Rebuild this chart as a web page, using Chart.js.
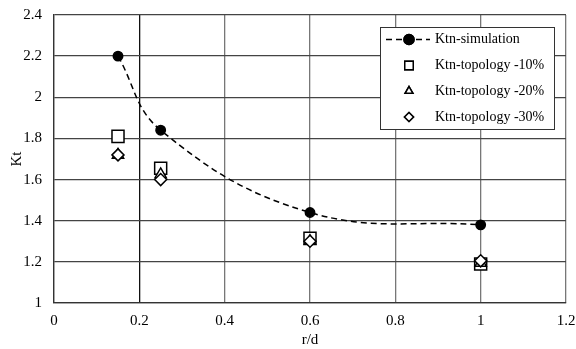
<!DOCTYPE html>
<html>
<head>
<meta charset="utf-8">
<script src="https://cdn.jsdelivr.net/npm/chart.js@4/dist/chart.umd.min.js"></script>
<style>
	html, body { margin: 0; padding: 0; background: #fff; }
	#grafico { display: block; }
</style>
</head>
<body>
<canvas id="grafico" width="576" height="349"></canvas>
<script>
var rd = [0.15, 0.25, 0.6, 1.0];
var ktnSimulation = [2.2, 1.84, 1.44, 1.38];
var ktnTopology10 = [1.81, 1.655, 1.315, 1.19];
var ktnTopology20 = [1.72, 1.625, 1.30, 1.195];
var ktnTopology30 = [1.72, 1.60, 1.30, 1.205];
var xTicks = [0, 0.2, 0.4, 0.6, 0.8, 1, 1.2];
var yTicks = [1, 1.2, 1.4, 1.6, 1.8, 2, 2.2, 2.4];
var nomes = ['Ktn-simulation', 'Ktn-topology -10%', 'Ktn-topology -20%', 'Ktn-topology -30%'];

var fonte = 'Liberation Serif, Times New Roman, serif';

function pontos(valores) {
	return rd.map(function(x, i) { return {x: x, y: valores[i]}; });
}

// legenda com borda dentro da area do grafico
var legendaBox = {
	id: 'legendaBox',
	afterDraw: function(chart) {
		var ctx = chart.ctx;
		var x0 = 380, y0 = 27, w = 174, h = 102;
		ctx.save();
		ctx.fillStyle = '#fff';
		ctx.fillRect(x0, y0, w, h);
		ctx.strokeStyle = '#333';
		ctx.lineWidth = 1;
		ctx.strokeRect(x0 + 0.5, y0 + 0.5, w, h);

		var linhas = [39.5, 65.5, 91, 117];
		ctx.font = '14px ' + fonte;
		ctx.textBaseline = 'middle';
		ctx.fillStyle = '#000';
		chart.data.datasets.forEach(function(ds, i) {
			var y = linhas[i];
			var cx = 409;
			if (ds.showLine) {
				ctx.setLineDash([6, 4]);
				ctx.lineWidth = 1.5;
				ctx.strokeStyle = '#000';
				ctx.beginPath();
				ctx.moveTo(386, y);
				ctx.lineTo(430, y);
				ctx.stroke();
				ctx.setLineDash([]);
			}
			Chart.helpers.drawPoint(ctx, {
				pointStyle: ds.pointStyle,
				radius: ds.pointStyle === 'circle' ? 5 : (ds.pointStyle === 'rect' ? 6 : 4.5),
				rotation: 0,
				borderWidth: 1.5
			}, cx, y);
			ctx.fillStyle = ds.pointBackgroundColor;
			ctx.strokeStyle = '#000';
			ctx.lineWidth = 1.5;
			ctx.fill();
			ctx.stroke();
			ctx.fillStyle = '#000';
			ctx.fillText(ds.label, 435, y);
		});
		ctx.restore();
	}
};

var grafico = new Chart(document.getElementById('grafico').getContext('2d'), {
	type: 'scatter',
	data: {
		datasets: [{
			label: nomes[0],
			data: pontos(ktnSimulation),
			order: 0,
			showLine: true,
			tension: 0.4,
			borderColor: '#000',
			borderWidth: 1.5,
			borderDash: [6, 4],
			pointStyle: 'circle',
			pointRadius: 4.7,
			pointBackgroundColor: '#000',
			pointBorderColor: '#000'
		}, {
			label: nomes[1],
			data: pontos(ktnTopology10),
			order: 3,
			showLine: false,
			pointStyle: 'rect',
			pointRadius: 8.5,
			pointBorderWidth: 1.5,
			pointBackgroundColor: '#fff',
			pointBorderColor: '#000'
		}, {
			label: nomes[2],
			data: pontos(ktnTopology20),
			order: 2,
			showLine: false,
			pointStyle: 'triangle',
			pointRadius: 6.5,
			pointBorderWidth: 1.5,
			pointBackgroundColor: '#fff',
			pointBorderColor: '#000'
		}, {
			label: nomes[3],
			data: pontos(ktnTopology30),
			order: 1,
			showLine: false,
			pointStyle: 'rectRot',
			pointRadius: 6,
			pointBorderWidth: 1.5,
			pointBackgroundColor: '#fff',
			pointBorderColor: '#000'
		}]
	},
	options: {
		responsive: false,
		animation: false,
		layout: { padding: { top: 15, right: 9, bottom: 0, left: 0 } },
		plugins: {
			legend: { display: false },
			tooltip: { enabled: false }
		},
		scales: {
			x: {
				type: 'linear',
				min: 0,
				max: 1.2,
				afterFit: function(scale) {
					scale.height = 46;
					scale.paddingLeft = 0;
					scale.paddingRight = 0;
				},
				afterBuildTicks: function(scale) {
					scale.ticks = xTicks.map(function(v) { return {value: v}; });
				},
				ticks: {
					padding: 9,
					color: '#000',
					font: { family: fonte, size: 15 },
					maxRotation: 0,
					callback: function(v) { return String(+v.toFixed(1)); }
				},
				grid: {
					drawTicks: false,
					lineWidth: 1.3,
					color: function(c) {
						return c.tick && c.tick.value === 0.2 ? '#111' : '#777';
					}
				},
				border: { color: '#333', width: 1.3 },
				title: {
					display: true,
					text: 'r/d',
					color: '#000',
					font: { family: fonte, size: 15 },
					padding: { top: 0, bottom: 0 }
				}
			},
			y: {
				type: 'linear',
				min: 1,
				max: 2.4,
				afterFit: function(scale) {
					scale.width = 54;
					scale.paddingTop = 0;
					scale.paddingBottom = 0;
				},
				afterBuildTicks: function(scale) {
					scale.ticks = yTicks.map(function(v) { return {value: v}; });
				},
				ticks: {
					padding: 12,
					color: '#000',
					font: { family: fonte, size: 15 },
					callback: function(v) { return String(+v.toFixed(1)); }
				},
				grid: {
					drawTicks: false,
					lineWidth: 1.3,
					color: '#444'
				},
				border: { color: '#333', width: 1.3 },
				title: {
					display: true,
					text: 'Kt',
					color: '#000',
					font: { family: fonte, size: 15 },
					padding: { top: 8, bottom: 0 }
				}
			}
		}
	},
	plugins: [legendaBox]
});
</script>
</body>
</html>
